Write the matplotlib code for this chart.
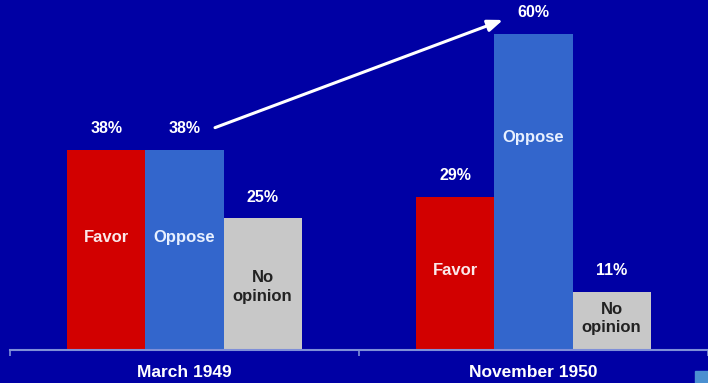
import matplotlib

matplotlib.use("Agg")
import matplotlib.pyplot as plt
from matplotlib.patches import Rectangle

# sondeo: favor / oppose / no opinion
periods = ["March 1949", "November 1950"]
answers = ["Favor", "Oppose", "No\nopinion"]
favor = [38, 29]
oppose = [38, 60]
no_opinion = [25, 11]

BG = "#0000a4"
colors = ["#d20000", "#3366cc", "#c8c8c8"]
text_colors = ["#fbe8ea", "#e8f0ff", "#222222"]
# altura (en %) de la etiqueta interior de cada barra
inner_y = {
    0: [21.4, 21.4, 12.0],
    1: [15.0, 40.4, 6.0],
}

plt.rcParams["font.family"] = ["Liberation Sans", "DejaVu Sans"]

fig = plt.figure(figsize=(7.08, 3.83), dpi=100, facecolor=BG)
ax = fig.add_axes([10 / 708, 33 / 383, 698 / 708, 350 / 383])
ax.set_facecolor(BG)

width = 0.224
series = [favor, oppose, no_opinion]
for k, vals in enumerate(series):
    xs = [i + (k - 1) * width for i in range(len(periods))]
    ax.bar(xs, vals, width=width, color=colors[k], edgecolor="none")
    for i, (x, v) in enumerate(zip(xs, vals)):
        ax.text(x, v + 2.6, f"{v}%", ha="center", va="bottom", color="white",
                fontsize=11.5, fontweight="bold")
        ax.text(x, inner_y[i][k], answers[k], ha="center", va="center",
                color=text_colors[k], fontsize=12, fontweight="bold",
                linespacing=1.3)

ax.set_xlim(-0.5, 1.5)
ax.set_ylim(0, 66.4)
for s in ("top", "right", "left"):
    ax.spines[s].set_visible(False)
ax.spines["bottom"].set_color("#7f8fd8")
ax.spines["bottom"].set_linewidth(1.5)
ax.set_yticks([])
ax.set_xticks([-0.5, 0.5, 1.5], minor=False)
ax.set_xticklabels([])
ax.tick_params(axis="x", colors="#7f8fd8", length=4, width=1.2, direction="out")
for i, p in enumerate(periods):
    ax.text(i, -4.3, p, ha="center", va="center", color="white",
            fontsize=12.5, fontweight="bold", clip_on=False)

# flecha de 38% a 60%
ax.annotate("", xy=(0.92, 62.8), xytext=(0.08, 42.0),
            arrowprops=dict(arrowstyle="-|>,head_length=0.9,head_width=0.35",
                            color="white", lw=2.2))

# cuadrito de la diapositiva abajo a la derecha
fig.patches.append(Rectangle((695 / 708, 0), 13 / 708, 12 / 383,
                             transform=fig.transFigure, color="#4a8fd0"))

fig.savefig("out.png", dpi=100, facecolor=BG)
